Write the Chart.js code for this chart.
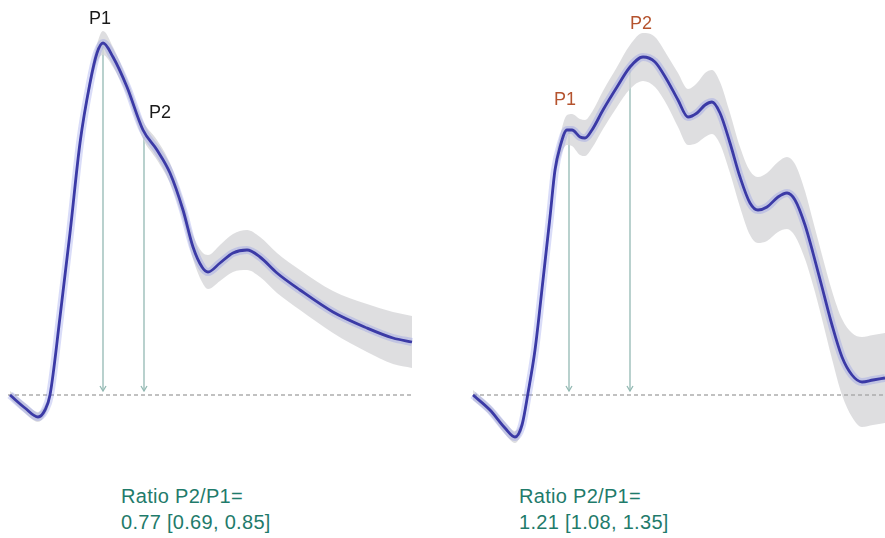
<!DOCTYPE html>
<html>
<head>
<meta charset="utf-8">
<script src="https://cdn.jsdelivr.net/npm/chart.js@4.4.0/dist/chart.umd.min.js"></script>
<style>
html,body{margin:0;background:#fff;}
body{width:885px;height:538px;position:relative;overflow:hidden;font-family:"Liberation Sans",Arial,Helvetica,sans-serif;}
canvas{position:absolute;top:0;}
#leftChart{left:0;}
#rightChart{left:440px;}
.ratio{position:absolute;top:483px;color:#1f7b6b;font-size:20px;line-height:26px;letter-spacing:0.3px;white-space:nowrap;}
#leftRatio{left:121px;}
#rightRatio{left:519px;}
</style>
</head>
<body>
<canvas id="leftChart" width="440" height="450"></canvas>
<canvas id="rightChart" width="445" height="450"></canvas>
<div class="ratio" id="leftRatio">Ratio P2/P1=<br>0.77 [0.69, 0.85]</div>
<div class="ratio" id="rightRatio">Ratio P2/P1=<br>1.21 [1.08, 1.35]</div>
<script>
// 左：P1 为主峰（P2 在下降支上的拐点）
const leftTime   = [10,25,38,45,50,60,70,80,90,97,103,113,127,143,157,170,183,193,202,208,220,233,247,260,277,300,333,367,393,412];
const leftWave   = [0,-13,-22,-15,0,78,162,252,312,342,352,338,308,265,245,222,185,148,128,123,132,142,145,138,122,105,83,67,57,53];
const leftSpread = [4,5,5,5,5,5,6,6,7,9,12,10,8,9,10,10,10,12,15,17,18,19,20,20,20,20,21,24,26,26];
const leftBase   = [8,412];
const leftPeakT  = [103,144];
const leftPeakA  = [352,258];
const leftLabels = ["P1","P2"];
const leftLabelT = [100,160];
const leftLabelA = [371,277];

// 右：P2 高于 P1
const rightTime   = [473,490,505,515,522,528,535,543,550,555,560,567,572,580,585,592,603,617,630,643,655,667,678,688,697,705,712,720,730,740,750,758,767,778,787,795,805,813,822,832,842,852,862,873,885];
const rightWave   = [0,-15,-33,-42,-30,2,45,115,178,225,248,265,265,258,257,265,285,308,328,338,333,315,295,278,282,290,293,282,252,218,192,185,188,198,202,195,170,142,108,70,38,20,13,15,17];
const rightSpread = [5,5,6,6,6,6,6,7,8,9,11,15,16,18,18,18,19,20,22,24,25,25,27,28,30,32,32,31,30,30,32,33,34,35,36,36,34,32,32,34,38,42,45,45,45];
const rightBase   = [473,885];
const rightPeakT  = [569,630];
const rightPeakA  = [265,330];
const rightLabels = ["P1","P2"];
const rightLabelT = [565,641];
const rightLabelA = [290,366];

const ARROW_END = 4;

function pts(t, v){ return t.map((x,i)=>({x:x, y:v[i]})); }

// 箭头 + P 标签
const markPlugin = {
  id:"marks",
  beforeDatasetsDraw(chart){
    const o = chart.options.plugins.marks, xs = chart.scales.x, ys = chart.scales.y, ctx = chart.ctx;
    ctx.save();
    ctx.strokeStyle = "#93b9b3"; ctx.lineWidth = 1.3;
    o.peakT.forEach((t,i)=>{
      const x = xs.getPixelForValue(t), y0 = ys.getPixelForValue(o.peakA[i]), y1 = ys.getPixelForValue(ARROW_END);
      ctx.beginPath(); ctx.moveTo(x,y0); ctx.lineTo(x,y1); ctx.stroke();
      ctx.beginPath(); ctx.moveTo(x-3,y1-5); ctx.lineTo(x,y1); ctx.lineTo(x+3,y1-5); ctx.stroke();
    });
    ctx.restore();
  },
  afterDatasetsDraw(chart){
    const o = chart.options.plugins.marks, xs = chart.scales.x, ys = chart.scales.y, ctx = chart.ctx;
    ctx.save();
    ctx.fillStyle = o.labelColor;
    ctx.font = '18px "Liberation Sans", Arial, sans-serif';
    ctx.textAlign = "center"; ctx.textBaseline = "alphabetic";
    o.labels.forEach((s,i)=>ctx.fillText(s, xs.getPixelForValue(o.labelT[i]), ys.getPixelForValue(o.labelA[i])));
    ctx.restore();
  }
};

function makeChart(id, time, wave, spread, base, peakT, peakA, labels, labelT, labelA, labelColor, xmin, xmax){
  const upper = wave.map((v,i)=>v+spread[i]);
  const lower = wave.map((v,i)=>v-spread[i]);
  const smooth = {cubicInterpolationMode:"monotone", pointRadius:0, clip:false};
  return new Chart(document.getElementById(id),{
    type:"line",
    data:{datasets:[
      Object.assign({data:pts(time,upper), borderWidth:0, borderColor:"rgba(0,0,0,0)", fill:false, order:5}, smooth),
      Object.assign({data:pts(time,lower), borderWidth:0, borderColor:"rgba(0,0,0,0)", backgroundColor:"rgba(214,214,216,0.8)", fill:0, order:4}, smooth),
      {data:pts(base,[0,0]), borderColor:"#adadad", borderWidth:1.6, borderDash:[4,3], pointRadius:0, fill:false, order:3},
      Object.assign({data:pts(time,wave), borderColor:"rgba(120,130,230,0.28)", borderWidth:8, fill:false, order:2}, smooth),
      Object.assign({data:pts(time,wave), borderColor:"#3b3aa6", borderWidth:2.8, fill:false, order:1}, smooth)
    ]},
    options:{
      responsive:false, animation:false, events:[],
      layout:{padding:0},
      scales:{
        x:{type:"linear", min:xmin, max:xmax, display:false},
        y:{type:"linear", min:-55, max:395, display:false}
      },
      plugins:{
        legend:{display:false}, tooltip:{enabled:false},
        marks:{peakT, peakA, labels, labelT, labelA, labelColor}
      }
    },
    plugins:[markPlugin]
  });
}

makeChart("leftChart", leftTime, leftWave, leftSpread, leftBase, leftPeakT, leftPeakA, leftLabels, leftLabelT, leftLabelA, "#1a1a1a", 0, 440);
makeChart("rightChart", rightTime, rightWave, rightSpread, rightBase, rightPeakT, rightPeakA, rightLabels, rightLabelT, rightLabelA, "#b5532e", 440, 885);
</script>
</body>
</html>
